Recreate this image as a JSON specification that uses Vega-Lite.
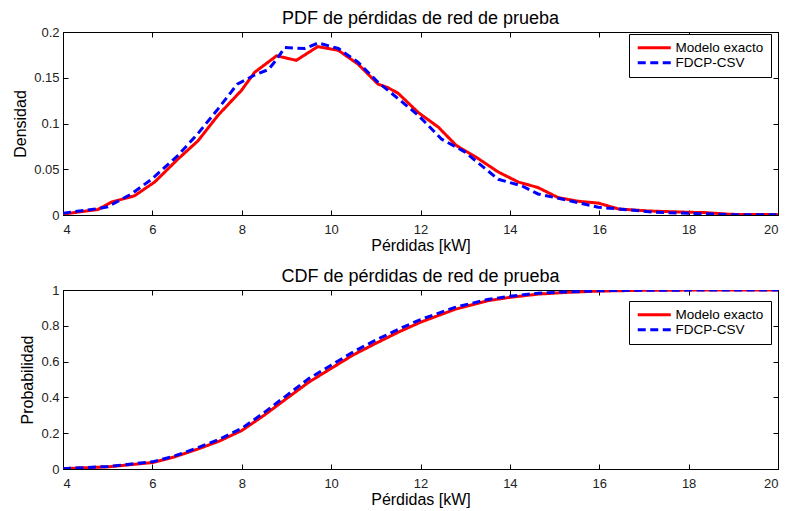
{
  "$schema": "https://vega.github.io/schema/vega-lite/v6.json",
  "padding": {"left": 12, "top": 9, "right": 5, "bottom": 3},
  "background": "white",
  "bounds": "flush",
  "spacing": 75,
  "config": {
    "font": "Liberation Sans",
    "view": {"stroke": "black", "strokeWidth": 1},
    "axis": {
      "grid": false,
      "domainColor": "black",
      "tickColor": "black",
      "tickSize": -5,
      "labelFont": "Liberation Sans",
      "labelFontSize": 13,
      "labelColor": "#222222",
      "titleFont": "Liberation Sans",
      "titleFontSize": 16,
      "titleFontWeight": "normal",
      "titleColor": "black"
    },
    "axisX": {"labelPadding": 13, "titlePadding": 1},
    "axisY": {"labelPadding": 9, "titlePadding": 5},
    "title": {"font": "Liberation Sans", "fontSize": 18, "fontWeight": "normal", "color": "black", "frame": "group", "offset": -2},
    "legend": {
      "orient": "none",
      "title": null,
      "fillColor": "white",
      "strokeColor": "black",
      "padding": 7,
      "symbolType": "M-3.3,0H3.3",
      "symbolSize": 100,
      "symbolStrokeWidth": 3,
      "symbolOffset": 11.5,
      "labelFont": "Liberation Sans",
      "labelFontSize": 13.5,
      "labelColor": "black",
      "labelOffset": 14.5,
      "rowPadding": 0
    }
  },
  "datasets": {
    "pdf": [
      {"x": 4, "y": 0.001, "serie": "Modelo exacto"},
      {"x": 4.78, "y": 0.006, "serie": "Modelo exacto"},
      {"x": 5.08, "y": 0.014, "serie": "Modelo exacto"},
      {"x": 5.6, "y": 0.021, "serie": "Modelo exacto"},
      {"x": 6.05, "y": 0.036, "serie": "Modelo exacto"},
      {"x": 6.57, "y": 0.061, "serie": "Modelo exacto"},
      {"x": 7.02, "y": 0.081, "serie": "Modelo exacto"},
      {"x": 7.47, "y": 0.109, "serie": "Modelo exacto"},
      {"x": 7.99, "y": 0.136, "serie": "Modelo exacto"},
      {"x": 8.29, "y": 0.156, "serie": "Modelo exacto"},
      {"x": 8.78, "y": 0.174, "serie": "Modelo exacto"},
      {"x": 9.22, "y": 0.169, "serie": "Modelo exacto"},
      {"x": 9.7, "y": 0.184, "serie": "Modelo exacto"},
      {"x": 10.16, "y": 0.18, "serie": "Modelo exacto"},
      {"x": 10.6, "y": 0.165, "serie": "Modelo exacto"},
      {"x": 11.05, "y": 0.143, "serie": "Modelo exacto"},
      {"x": 11.28, "y": 0.139, "serie": "Modelo exacto"},
      {"x": 11.5, "y": 0.133, "serie": "Modelo exacto"},
      {"x": 11.95, "y": 0.112, "serie": "Modelo exacto"},
      {"x": 12.4, "y": 0.096, "serie": "Modelo exacto"},
      {"x": 12.8, "y": 0.076, "serie": "Modelo exacto"},
      {"x": 13.25, "y": 0.063, "serie": "Modelo exacto"},
      {"x": 13.74, "y": 0.047, "serie": "Modelo exacto"},
      {"x": 14.19, "y": 0.036, "serie": "Modelo exacto"},
      {"x": 14.63, "y": 0.03, "serie": "Modelo exacto"},
      {"x": 15.08, "y": 0.019, "serie": "Modelo exacto"},
      {"x": 15.53, "y": 0.015, "serie": "Modelo exacto"},
      {"x": 15.98, "y": 0.013, "serie": "Modelo exacto"},
      {"x": 16.43, "y": 0.0066, "serie": "Modelo exacto"},
      {"x": 17.1, "y": 0.0044, "serie": "Modelo exacto"},
      {"x": 17.99, "y": 0.003, "serie": "Modelo exacto"},
      {"x": 18.37, "y": 0.0026, "serie": "Modelo exacto"},
      {"x": 18.96, "y": 0.0007, "serie": "Modelo exacto"},
      {"x": 20, "y": 0.0004, "serie": "Modelo exacto"},
      {"x": 4, "y": 0.002, "serie": "FDCP-CSV"},
      {"x": 4.78, "y": 0.007, "serie": "FDCP-CSV"},
      {"x": 5.0, "y": 0.009, "serie": "FDCP-CSV"},
      {"x": 5.53, "y": 0.023, "serie": "FDCP-CSV"},
      {"x": 5.98, "y": 0.039, "serie": "FDCP-CSV"},
      {"x": 6.57, "y": 0.065, "serie": "FDCP-CSV"},
      {"x": 7.02, "y": 0.089, "serie": "FDCP-CSV"},
      {"x": 7.47, "y": 0.116, "serie": "FDCP-CSV"},
      {"x": 7.9, "y": 0.143, "serie": "FDCP-CSV"},
      {"x": 8.29, "y": 0.153, "serie": "FDCP-CSV"},
      {"x": 8.6, "y": 0.159, "serie": "FDCP-CSV"},
      {"x": 8.78, "y": 0.17, "serie": "FDCP-CSV"},
      {"x": 8.96, "y": 0.183, "serie": "FDCP-CSV"},
      {"x": 9.41, "y": 0.182, "serie": "FDCP-CSV"},
      {"x": 9.71, "y": 0.188, "serie": "FDCP-CSV"},
      {"x": 10.16, "y": 0.182, "serie": "FDCP-CSV"},
      {"x": 10.6, "y": 0.167, "serie": "FDCP-CSV"},
      {"x": 11.05, "y": 0.145, "serie": "FDCP-CSV"},
      {"x": 11.28, "y": 0.136, "serie": "FDCP-CSV"},
      {"x": 11.95, "y": 0.109, "serie": "FDCP-CSV"},
      {"x": 12.47, "y": 0.083, "serie": "FDCP-CSV"},
      {"x": 12.99, "y": 0.069, "serie": "FDCP-CSV"},
      {"x": 13.74, "y": 0.039, "serie": "FDCP-CSV"},
      {"x": 14.26, "y": 0.032, "serie": "FDCP-CSV"},
      {"x": 14.63, "y": 0.023, "serie": "FDCP-CSV"},
      {"x": 15.16, "y": 0.0175, "serie": "FDCP-CSV"},
      {"x": 15.98, "y": 0.0084, "serie": "FDCP-CSV"},
      {"x": 16.43, "y": 0.0066, "serie": "FDCP-CSV"},
      {"x": 17.25, "y": 0.003, "serie": "FDCP-CSV"},
      {"x": 18, "y": 0.0018, "serie": "FDCP-CSV"},
      {"x": 18.96, "y": 0.0004, "serie": "FDCP-CSV"},
      {"x": 20, "y": 0.0004, "serie": "FDCP-CSV"}
    ],
    "cdf": [
      {"x": 4, "y": 0.002, "serie": "Modelo exacto"},
      {"x": 5, "y": 0.012, "serie": "Modelo exacto"},
      {"x": 6, "y": 0.036, "serie": "Modelo exacto"},
      {"x": 6.5, "y": 0.068, "serie": "Modelo exacto"},
      {"x": 7, "y": 0.11, "serie": "Modelo exacto"},
      {"x": 7.5, "y": 0.156, "serie": "Modelo exacto"},
      {"x": 8, "y": 0.215, "serie": "Modelo exacto"},
      {"x": 8.5, "y": 0.3, "serie": "Modelo exacto"},
      {"x": 9, "y": 0.393, "serie": "Modelo exacto"},
      {"x": 9.5, "y": 0.485, "serie": "Modelo exacto"},
      {"x": 10, "y": 0.562, "serie": "Modelo exacto"},
      {"x": 10.5, "y": 0.638, "serie": "Modelo exacto"},
      {"x": 11, "y": 0.702, "serie": "Modelo exacto"},
      {"x": 11.5, "y": 0.764, "serie": "Modelo exacto"},
      {"x": 12, "y": 0.82, "serie": "Modelo exacto"},
      {"x": 12.77, "y": 0.892, "serie": "Modelo exacto"},
      {"x": 13.5, "y": 0.94, "serie": "Modelo exacto"},
      {"x": 14, "y": 0.959, "serie": "Modelo exacto"},
      {"x": 14.63, "y": 0.977, "serie": "Modelo exacto"},
      {"x": 15.3, "y": 0.987, "serie": "Modelo exacto"},
      {"x": 16, "y": 0.994, "serie": "Modelo exacto"},
      {"x": 16.9, "y": 0.998, "serie": "Modelo exacto"},
      {"x": 18, "y": 0.9995, "serie": "Modelo exacto"},
      {"x": 20, "y": 1.0, "serie": "Modelo exacto"},
      {"x": 4, "y": 0.002, "serie": "FDCP-CSV"},
      {"x": 5, "y": 0.014, "serie": "FDCP-CSV"},
      {"x": 6, "y": 0.04, "serie": "FDCP-CSV"},
      {"x": 6.5, "y": 0.073, "serie": "FDCP-CSV"},
      {"x": 7, "y": 0.118, "serie": "FDCP-CSV"},
      {"x": 7.5, "y": 0.166, "serie": "FDCP-CSV"},
      {"x": 8, "y": 0.227, "serie": "FDCP-CSV"},
      {"x": 8.5, "y": 0.315, "serie": "FDCP-CSV"},
      {"x": 9, "y": 0.41, "serie": "FDCP-CSV"},
      {"x": 9.5, "y": 0.505, "serie": "FDCP-CSV"},
      {"x": 10, "y": 0.58, "serie": "FDCP-CSV"},
      {"x": 10.5, "y": 0.655, "serie": "FDCP-CSV"},
      {"x": 11, "y": 0.72, "serie": "FDCP-CSV"},
      {"x": 11.5, "y": 0.78, "serie": "FDCP-CSV"},
      {"x": 12, "y": 0.835, "serie": "FDCP-CSV"},
      {"x": 12.77, "y": 0.903, "serie": "FDCP-CSV"},
      {"x": 13.5, "y": 0.947, "serie": "FDCP-CSV"},
      {"x": 14, "y": 0.965, "serie": "FDCP-CSV"},
      {"x": 14.63, "y": 0.982, "serie": "FDCP-CSV"},
      {"x": 15.3, "y": 0.99, "serie": "FDCP-CSV"},
      {"x": 16, "y": 0.996, "serie": "FDCP-CSV"},
      {"x": 17, "y": 0.999, "serie": "FDCP-CSV"},
      {"x": 20, "y": 1.0, "serie": "FDCP-CSV"}
    ]
  },
  "resolve": {"legend": {"color": "independent", "strokeDash": "independent"}},
  "vconcat": [
    {
      "width": 715,
      "height": 183,
      "title": {"text": "PDF de pérdidas de red de prueba"},
      "data": {"name": "pdf"},
      "resolve": {"scale": {"x": "independent", "y": "independent"}},
      "layer": [
        {
          "mark": {"type": "line", "strokeWidth": 3, "clip": true},
          "encoding": {
            "x": {"field": "x", "type": "quantitative", "scale": {"domain": [4, 20], "nice": false}, "axis": {"title": "Pérdidas [kW]", "values": [4, 6, 8, 10, 12, 14, 16, 18, 20], "format": "d"}},
            "y": {"field": "y", "type": "quantitative", "scale": {"domain": [0, 0.2], "nice": false}, "axis": {"title": "Densidad", "values": [0, 0.05, 0.1, 0.15, 0.2], "format": "~g"}},
            "color": {"field": "serie", "type": "nominal", "sort": null, "scale": {"domain": ["Modelo exacto", "FDCP-CSV"], "range": ["#ff0000", "#0000ff"]}, "legend": {"legendX": 566, "legendY": 2}},
            "strokeDash": {"field": "serie", "type": "nominal", "sort": null, "scale": {"domain": ["Modelo exacto", "FDCP-CSV"], "range": [[1, 0], [8, 4.5]]}, "legend": {"legendX": 566, "legendY": 2}}
          }
        },
        {
          "mark": {"type": "line", "opacity": 0},
          "encoding": {
            "x": {"field": "x", "type": "quantitative", "scale": {"domain": [4, 20], "nice": false}, "axis": {"orient": "top", "title": null, "labels": false, "values": [4, 6, 8, 10, 12, 14, 16, 18, 20]}},
            "y": {"field": "y", "type": "quantitative", "scale": {"domain": [0, 0.2], "nice": false}, "axis": {"orient": "right", "title": null, "labels": false, "values": [0, 0.05, 0.1, 0.15, 0.2]}}
          }
        }
      ]
    },
    {
      "width": 715,
      "height": 179,
      "title": {"text": "CDF de pérdidas de red de prueba"},
      "data": {"name": "cdf"},
      "resolve": {"scale": {"x": "independent", "y": "independent"}},
      "layer": [
        {
          "mark": {"type": "line", "strokeWidth": 3, "clip": true},
          "encoding": {
            "x": {"field": "x", "type": "quantitative", "scale": {"domain": [4, 20], "nice": false}, "axis": {"title": "Pérdidas [kW]", "values": [4, 6, 8, 10, 12, 14, 16, 18, 20], "format": "d"}},
            "y": {"field": "y", "type": "quantitative", "scale": {"domain": [0, 1], "nice": false}, "axis": {"title": "Probabilidad", "values": [0, 0.2, 0.4, 0.6, 0.8, 1], "format": "~g"}},
            "color": {"field": "serie", "type": "nominal", "sort": null, "scale": {"domain": ["Modelo exacto", "FDCP-CSV"], "range": ["#ff0000", "#0000ff"]}, "legend": {"legendX": 566, "legendY": 11}},
            "strokeDash": {"field": "serie", "type": "nominal", "sort": null, "scale": {"domain": ["Modelo exacto", "FDCP-CSV"], "range": [[1, 0], [8, 4.5]]}, "legend": {"legendX": 566, "legendY": 11}}
          }
        },
        {
          "mark": {"type": "line", "opacity": 0},
          "encoding": {
            "x": {"field": "x", "type": "quantitative", "scale": {"domain": [4, 20], "nice": false}, "axis": {"orient": "top", "title": null, "labels": false, "values": [4, 6, 8, 10, 12, 14, 16, 18, 20]}},
            "y": {"field": "y", "type": "quantitative", "scale": {"domain": [0, 1], "nice": false}, "axis": {"orient": "right", "title": null, "labels": false, "values": [0, 0.2, 0.4, 0.6, 0.8, 1]}}
          }
        }
      ]
    }
  ]
}
